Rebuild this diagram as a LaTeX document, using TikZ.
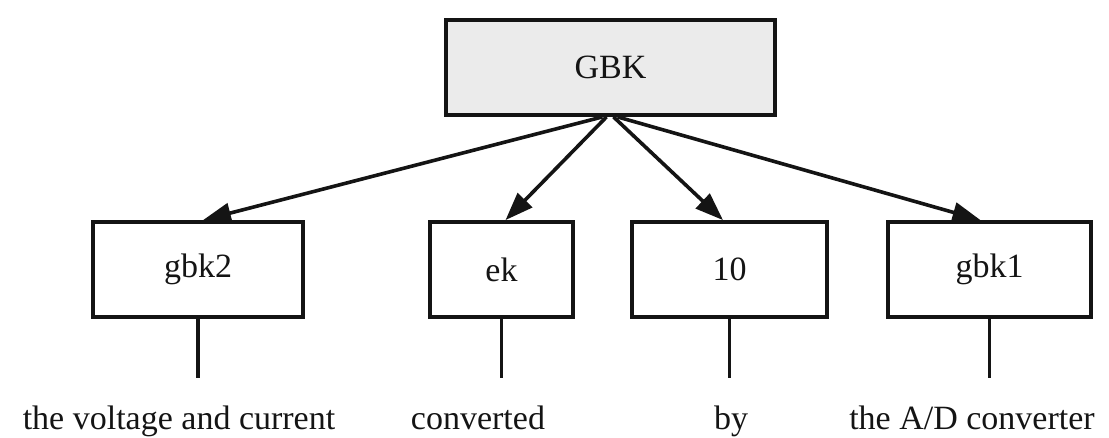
\documentclass[tikz,border=0pt]{standalone}
\usepackage{fontspec}
\setmainfont{Liberation Serif}
\usetikzlibrary{arrows.meta}
\definecolor{rootfill}{HTML}{EBEBEB}
\definecolor{ink}{HTML}{141414}
\begin{document}
\begin{tikzpicture}[x=1pt,y=-1pt,
  font=\fontsize{34}{40}\selectfont,
  box/.style={draw=ink, line width=3.8pt, rectangle, minimum height=95pt,
    inner sep=0pt, text=ink},
  rootbox/.style={box, fill=rootfill},
  caption/.style={anchor=base, inner sep=0pt, text=ink},
  arr/.style={draw=ink, line width=3.6pt,
    -{Triangle[length=28pt,width=20pt]}},
  stem/.style={draw=ink, line width=3.4pt}]
\useasboundingbox (0,0) rectangle (1109,437);

% root and leaves
\node[rootbox, minimum width=329pt] (GBK) at (610.5,67.5) {GBK};
\node[box, minimum width=210pt] (gbk2) at (198,269.5) {gbk2};
\node[box, minimum width=143pt] (ek)   at (501.5,269.5) {ek};
\node[box, minimum width=195pt] (l10)  at (729.5,269.5) {10};
\node[box, minimum width=203pt] (gbk1) at (989.5,269.5) {gbk1};

% captions below the leaves
\node[caption] (t1) at (179,429) {the voltage and current};
\node[caption] (t2) at (478,429) {converted};
\node[caption] (t3) at (731,429) {by};
\node[caption] (t4) at (972,429) {the A/D converter};

% ends of the stems above the captions
\coordinate (s1) at (198,378);
\coordinate (s2) at (501.5,378);
\coordinate (s3) at (729.5,378);
\coordinate (s4) at (989.5,378);

% edges from the root
\draw[arr] ([xshift=-8pt]GBK.south) -- ([xshift=5pt]gbk2.north);
\draw[arr] ([xshift=-4pt]GBK.south) -- ([xshift=4pt]ek.north);
\draw[arr] ([xshift=3pt]GBK.south)  -- ([xshift=-6.5pt]l10.north);
\draw[arr] ([xshift=7pt]GBK.south)  -- ([xshift=-9pt]gbk1.north);

% stems down to the captions
\draw[stem] (gbk2.south) -- (s1);
\draw[stem] (ek.south)   -- (s2);
\draw[stem] (l10.south)  -- (s3);
\draw[stem] (gbk1.south) -- (s4);
\end{tikzpicture}
\end{document}
